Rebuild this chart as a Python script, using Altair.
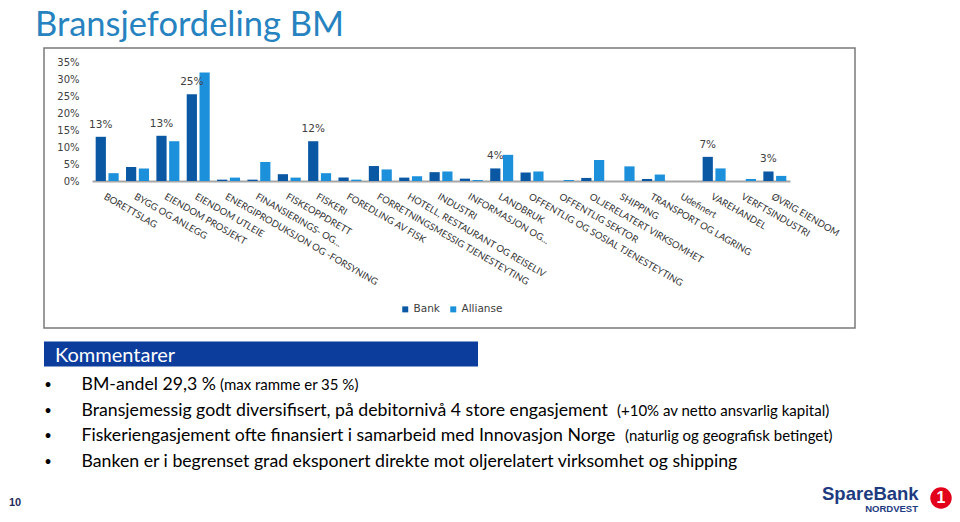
import altair as alt
import pandas as pd

# ---------------- data ----------------
categories = [
    "BORETTSLAG", "BYGG OG ANLEGG", "EIENDOM PROSJEKT", "EIENDOM UTLEIE",
    "ENERGIPRODUKSJON OG -FORSYNING", "FINANSIERINGS- OG...", "FISKEOPPDRETT", "FISKERI",
    "FOREDLING AV FISK", "FORRETNINGSMESSIG TJENESTEYTING", "HOTELL, RESTAURANT OG REISELIV",
    "INDUSTRI", "INFORMASJON OG...", "LANDBRUK", "OFFENTLIG OG SOSIAL TJENESTEYTING",
    "OFFENTLIG SEKTOR", "OLJERELATERT VIRKSOMHET", "SHIPPING", "TRANSPORT OG LAGRING",
    "Udefinert", "VAREHANDEL", "VERFTSINDUSTRI", "ØVRIG EIENDOM",
]
bank = [13.0, 4.1, 13.3, 25.5, 0.4, 0.4, 2.0, 11.7, 1.0, 4.4, 1.0, 2.6,
        0.7, 3.7, 2.5, 0.0, 0.9, 0.0, 0.6, 0.0, 7.1, 0.0, 2.8]
allianse = [2.3, 3.7, 11.7, 31.9, 1.0, 5.6, 1.0, 2.3, 0.4, 3.4, 1.4, 2.8,
            0.3, 7.7, 2.8, 0.3, 6.2, 4.3, 1.9, 0.0, 3.7, 0.6, 1.5]
series_names = ["Bank", "Allianse"]
series_colors = ["#0a58a4", "#1c90da"]

label_categories = ["BORETTSLAG", "EIENDOM PROSJEKT", "EIENDOM UTLEIE", "FISKERI",
                    "LANDBRUK", "VAREHANDEL", "ØVRIG EIENDOM"]
label_texts = ["13%", "13%", "25%", "12%", "4%", "7%", "3%"]

y_ticks = [0, 0.05, 0.10, 0.15, 0.20, 0.25, 0.30, 0.35]

title_text = "Bransjefordeling BM"
header_text = "Kommentarer"
bullet_main = [
    "BM-andel 29,3 %",
    "Bransjemessig godt diversifisert, på debitornivå 4 store engasjement",
    "Fiskeriengasjement ofte finansiert i samarbeid med Innovasjon Norge",
    "Banken er i begrenset grad eksponert direkte mot oljerelatert virksomhet og shipping",
]
bullet_note = [
    "(max ramme er 35 %)",
    "(+10% av netto ansvarlig kapital)",
    "(naturlig og geografisk betinget)",
    "",
]
page_number = "10"
logo_name = "SpareBank"
logo_sub = "NORDVEST"
logo_mark = "1"

# ---------------- tables ----------------
rows = []
for c, b, a in zip(categories, bank, allianse):
    rows.append({"category": c, "series": "Bank", "value": b / 100})
    rows.append({"category": c, "series": "Allianse", "value": a / 100})
df = pd.DataFrame(rows)

bank_lookup = dict(zip(categories, bank))
df_labels = pd.DataFrame({
    "category": label_categories,
    "series": ["Bank"] * len(label_categories),
    "value": [bank_lookup[c] / 100 for c in label_categories],
    "label": label_texts,
})

# ---------------- layout (page coordinates) ----------------
X0, Y0 = 92, 62          # plot origin on the page
PW, PH = 698, 119        # plot area
CW, CH = 944, 506        # whole canvas


def px(x):
    return alt.value(x - X0)


def py(y):
    return alt.value(y - Y0)


def text_layer(s, x, y, size, color="#000000", font="Lato", weight="normal",
               align="left", baseline="alphabetic"):
    return alt.Chart(pd.DataFrame({"t": [s]})).mark_text(
        align=align, baseline=baseline, font=font, fontSize=size,
        fontWeight=weight, color=color,
    ).encode(text="t:N", x=px(x), y=py(y))


x_enc = alt.X(
    "category:N", sort=categories, title=None,
    scale=alt.Scale(paddingInner=0.2, paddingOuter=0.1),
    axis=alt.Axis(labelAngle=30, labelAlign="left", labelBaseline="top",
                  labelFont="Lato", labelFontSize=9.5, labelColor="#333333",
                  labelPadding=10, ticks=False, domainColor="#a6a6a6",
                  domainWidth=2, labelLimit=300, labelOverlap=False),
)
xoff_enc = alt.XOffset("series:N", sort=series_names,
                       scale=alt.Scale(domain=series_names, paddingInner=0.2,
                                       paddingOuter=0.05))
y_enc = alt.Y(
    "value:Q", title=None, scale=alt.Scale(domain=[0, 0.35]),
    axis=alt.Axis(values=y_ticks, format=".0%", grid=False, domain=False,
                  ticks=False, labelPadding=13, labelFont="DejaVu Sans",
                  labelFontSize=10, labelColor="#404040"),
)

border = alt.Chart(pd.DataFrame({"a": [0]})).mark_rect(
    fillOpacity=0, stroke="#7a7a7a", strokeWidth=1.5
).encode(x=px(44), x2=px(855), y=py(48), y2=py(328))

bars = alt.Chart(df).mark_bar().encode(
    x=x_enc, xOffset=xoff_enc, y=y_enc,
    color=alt.Color(
        "series:N", sort=series_names,
        scale=alt.Scale(domain=series_names, range=series_colors),
        legend=alt.Legend(orient="none", legendX=400 - X0, legendY=304 - Y0,
                          direction="horizontal", title=None, symbolType="square",
                          symbolSize=36, symbolStrokeWidth=0, labelFont="DejaVu Sans",
                          labelFontSize=10.5, labelColor="#404040", labelOffset=3,
                          columnPadding=8, padding=0),
    ),
)

labels = alt.Chart(df_labels).mark_text(
    baseline="bottom", dy=-7, font="DejaVu Sans", fontSize=10.5, color="#404040"
).encode(
    x=x_enc, xOffset=xoff_enc, y=y_enc,
    text="label:N",
)

header_bar = alt.Chart(pd.DataFrame({"a": [0]})).mark_rect(
    color="#0c3c9c"
).encode(x=px(44), x2=px(478), y=py(341.5), y2=py(366.5))

layers = [border, bars, labels, header_bar]
layers.append(text_layer(title_text, 35, 9, 34.5, color="#2683c0", baseline="top"))
layers.append(text_layer(header_text, 55, 361.5, 20, color="#ffffff"))

baselines = [390, 415.5, 441, 467]
note_x = [220, 617, 625, 0]
for main, note, yb, nx in zip(bullet_main, bullet_note, baselines, note_x):
    layers.append(text_layer("•", 48, yb - 1, 13, align="center"))
    layers.append(text_layer(main, 81.5, yb, 17.7))
    if note:
        layers.append(text_layer(note, nx, yb, 15))

layers.append(text_layer(page_number, 9, 506, 11, color="#1f2d5a", weight="bold",
                         font="Liberation Sans"))
layers.append(text_layer(logo_name, 822, 500, 18.5, color="#1e3b80", weight="bold",
                         font="Liberation Sans"))
layers.append(text_layer(logo_sub, 918, 512, 9.5, color="#1e3b80", weight="bold",
                         font="Liberation Sans", align="right"))
circle = alt.Chart(pd.DataFrame({"a": [0]})).mark_point(
    shape="circle", filled=True, color="#e2001a", opacity=1, size=460
).encode(x=px(941), y=py(498))
layers.append(circle)
layers.append(text_layer(logo_mark, 941, 498, 16, color="#ffffff", weight="bold",
                         font="Liberation Sans", align="center", baseline="middle"))

chart = alt.layer(*layers).properties(
    width=PW, height=PH,
    autosize=alt.AutoSizeParams(type="none"),
    padding={"left": X0 - 8, "top": Y0 - 8,
             "right": CW - (X0 - 8) - PW, "bottom": CH - (Y0 - 8) - PH},
    background="#ffffff",
).configure_view(stroke=None)

chart.save("out.html", embed_options={"renderer": "svg", "actions": False})
